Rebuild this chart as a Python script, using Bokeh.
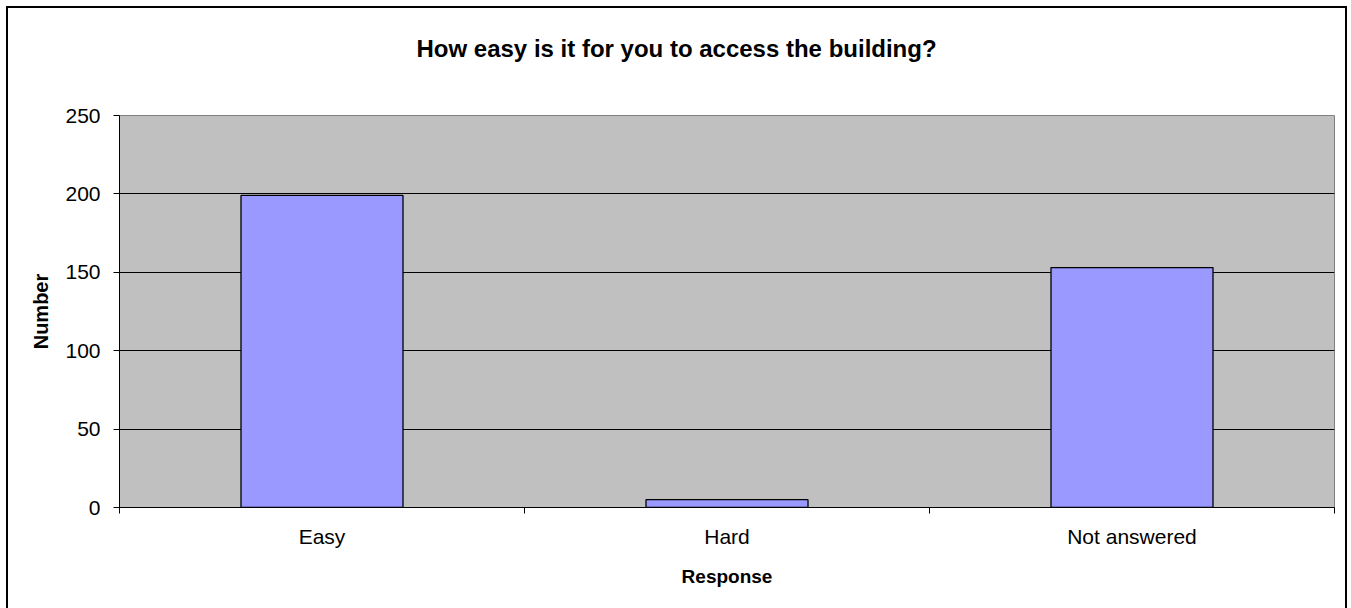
from bokeh.plotting import figure
from bokeh.models import ColumnDataSource, FixedTicker, Range1d, Title
from bokeh.embed import file_html
from bokeh.resources import INLINE

title_text = "How easy is it for you to access the building?"
categories = ["Easy", "Hard", "Not answered"]
values = [199, 5, 153]
y_ticks = [0, 50, 100, 150, 200, 250]

positions = [i + 0.5 for i in range(len(categories))]
source = ColumnDataSource(data=dict(x=positions, top=values, cat=categories))

FONT = "Liberation Sans"

p = figure(width=1341, height=602, output_backend="svg", toolbar_location=None,
           x_range=Range1d(0, len(categories)), y_range=Range1d(0, y_ticks[-1]),
           min_border_left=111, min_border_right=15, min_border_top=107, min_border_bottom=103,
           background_fill_color="#C0C0C0", border_fill_color="white",
           outline_line_color="#808080", outline_line_width=1,
           margin=(6, 0, 0, 6),
           styles={"border-top": "2px solid black", "border-left": "2px solid black",
                   "border-right": "2px solid black", "box-sizing": "border-box"})

# the real title
p.title.text = title_text
p.title.align = "left"
p.title.offset = 297
p.title.standoff = 0
p.title.text_font = FONT
p.title.text_font_size = "24px"
p.title.text_font_style = "bold"
p.title.text_color = "black"

# spacer title between the real title and the frame
spacer = Title(text=" ", text_font_size="1px", standoff=51)
p.add_layout(spacer, "above")

p.vbar(x="x", top="top", width=0.4, source=source, fill_color="#9999FF",
       line_color="black", line_width=1.3)

# x axis
xa = p.xaxis[0]
xa.ticker = FixedTicker(ticks=positions, minor_ticks=list(range(len(categories) + 1)))
xa.major_label_overrides = {pos: c for pos, c in zip(positions, categories)}
xa.major_tick_out = 0
xa.major_tick_in = 0
xa.minor_tick_out = 6
xa.minor_tick_in = 0
xa.minor_tick_line_color = "black"
xa.axis_line_color = "black"
xa.major_label_text_font = FONT
xa.major_label_text_font_size = "21px"
xa.major_label_text_color = "black"
xa.major_label_standoff = 11
xa.axis_label = "Response"
xa.axis_label_text_font = FONT
xa.axis_label_text_font_size = "19px"
xa.axis_label_text_font_style = "bold"
xa.axis_label_text_color = "black"
xa.axis_label_standoff = 15

# y axis
ya = p.yaxis[0]
ya.ticker = FixedTicker(ticks=y_ticks)
ya.major_tick_out = 6
ya.major_tick_in = 0
ya.minor_tick_line_color = None
ya.axis_line_color = "black"
ya.major_tick_line_color = "black"
ya.major_label_text_font = FONT
ya.major_label_text_font_size = "21px"
ya.major_label_text_color = "black"
ya.major_label_standoff = 13
ya.axis_label = "Number"
ya.axis_label_text_font = FONT
ya.axis_label_text_font_size = "20px"
ya.axis_label_text_font_style = "bold"
ya.axis_label_text_color = "black"
ya.axis_label_standoff = 10

p.xgrid.grid_line_color = None
p.ygrid.ticker = FixedTicker(ticks=y_ticks[1:-1])
p.ygrid.grid_line_color = "black"
p.ygrid.grid_line_width = 1

open("out.html", "w").write(file_html(p, INLINE))
